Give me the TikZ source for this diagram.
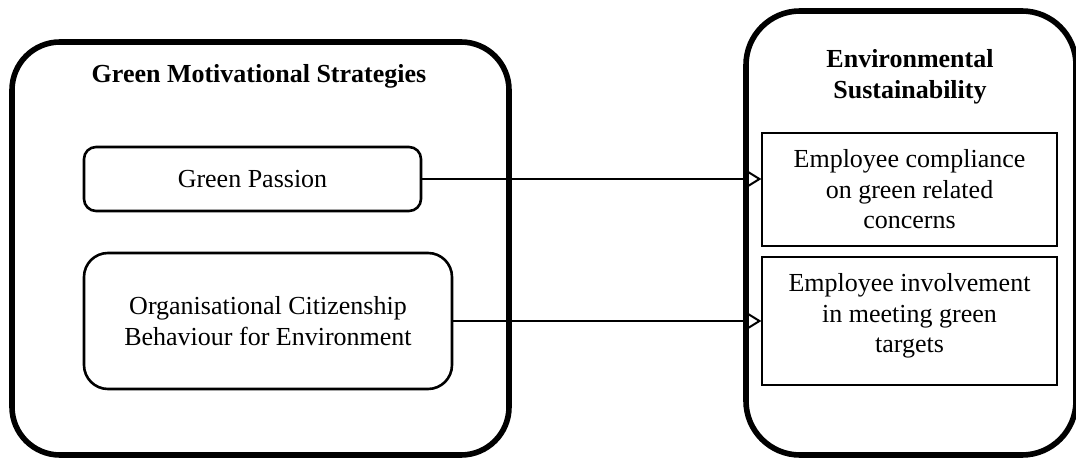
\documentclass[tikz,border=0pt]{standalone}
\usepackage{fontspec}
\setmainfont{Liberation Serif}
\usetikzlibrary{arrows.meta}
\tikzset{
  frame/outer/.style={draw, line width=2.8pt, rounded corners=24pt},
  frame/inner/.style={draw, line width=1.3pt, align=center},
  frame/plain/.style={draw, line width=0.6pt, align=center},
  link/.style={line width=1pt, -{Triangle[open, length=7.5pt, width=9pt]}},
}
\newcommand{\bodyfont}{\fontsize{13}{15.25}\selectfont}

\begin{document}
\begin{tikzpicture}[x=0.5pt, y=-0.5pt, font=\bodyfont]
  \useasboundingbox (0,0) rectangle (1076,458);
  \node[frame/outer, minimum width=248.5pt, minimum height=206.5pt] (gms) at (260.5,248.5) {};
  \node[frame/outer, rounded corners=27pt, minimum width=165pt, minimum height=222pt] (es) at (911,233) {};
  \node[anchor=base, font=\bodyfont\bfseries] (gmstitle) at (259,83) {Green Motivational Strategies};
  \node[align=center, font=\bodyfont\bfseries] (estitle) at (910,77) {Environmental\\Sustainability};

  \node[frame/inner, rounded corners=6pt, minimum width=168.5pt, minimum height=32pt] (passion) at (252.5,179) {Green Passion};
  \node[frame/inner, rounded corners=12pt, minimum width=184pt, minimum height=68pt] (ocbe) at (268,321) {Organisational Citizenship\\Behaviour for Environment};

  \node[frame/plain, minimum width=147.5pt, minimum height=56.5pt] (comply) at (909.5,189.5) {Employee compliance\\on green related\\concerns};
  \node[frame/plain, minimum width=147.5pt, minimum height=64pt] (involve) at (909.5,321) {};
  \node[align=center] (involvetext) at (909.5,316) {Employee involvement\\in meeting green\\targets};

  \draw[link] (passion.east) -- (passion.east -| comply.west);
  \draw[link] (ocbe.east) -- (ocbe.east -| involve.west);
\end{tikzpicture}
\end{document}
